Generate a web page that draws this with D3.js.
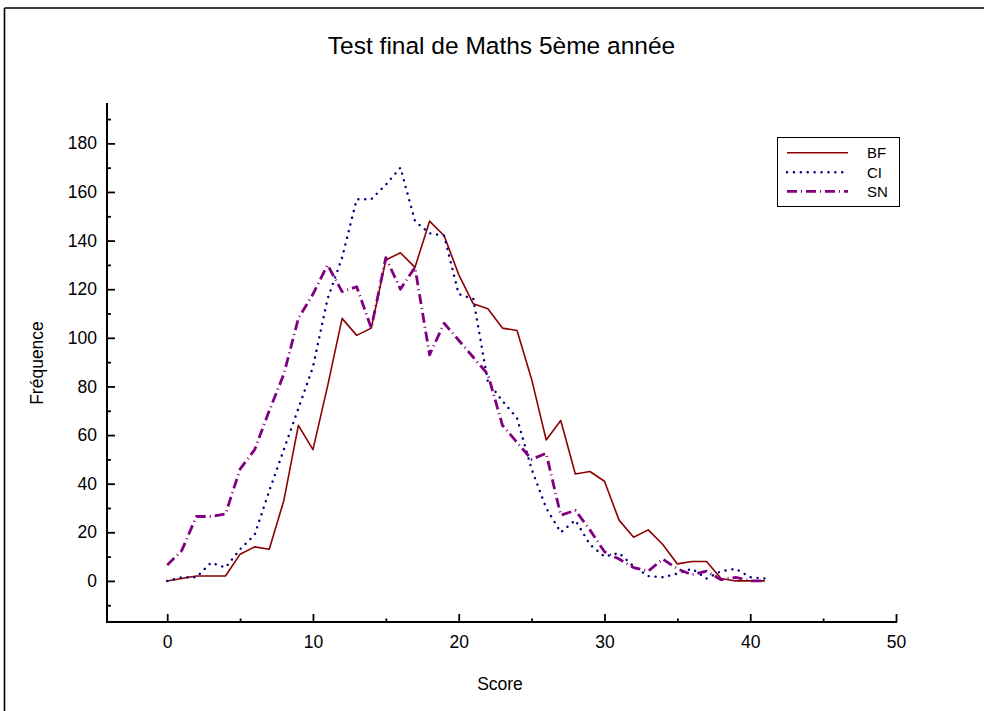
<!DOCTYPE html>
<html>
<head>
<meta charset="utf-8">
<script src="https://cdn.jsdelivr.net/npm/d3@7"></script>
<style>
  html, body { margin: 0; padding: 0; background: #fff; }
  svg { display: block; font-family: "Liberation Sans", Arial, sans-serif; }
</style>
</head>
<body>
<svg id="chart" width="984" height="711"></svg>
<script>
// ---- data ----
const scores = [0,1,2,3,4,5,6,7,8,9,10,11,12,13,14,15,16,17,18,19,20,
                21,22,23,24,25,26,27,28,29,30,31,32,33,34,35,36,37,38,39,40,41];
const bf = [0,1,2,2,2,11,14,13,33,64,54,80,108,101,104,132,135,129,148,142,126,
            114,112,104,103,83,58,66,44,45,41,25,18,21,15,7,8,8,1,0,0,0];
const ci = [0,1.5,1.5,7.5,5.5,13,19,37,54,71,88,116,133,157,157,163,170,148,143,142,118,
            116,82,74,67,46,30,20,25,15,10,11.5,6,2,1.5,3,5,1,4,5,1.5,1];
const sn = [6.5,12.5,26.5,26.5,27.5,46,54,70,85,108,118,130,119,121,104,133,120,129,93,106,99,
            92,85,64,57,50,52.5,27,29,21,12,9,5.5,4,9,5,2.5,4,0.5,1.5,0,0];
const seriesNames = ["BF", "CI", "SN"];
const xTicks = [0,10,20,30,40,50];
const xMinorTicks = [5,15,25,35,45];
const yTicks = [0,20,40,60,80,100,120,140,160,180];
const yMinorTicks = [-10,10,30,50,70,90,110,130,150,170,190];
const title = "Test final de Maths 5ème année";
const xTitle = "Score";
const yTitle = "Fréquence";

// ---- drawing ----
const svg = d3.select("#chart");
const x = d3.scaleLinear().domain([-4.13, 50]).range([107, 896]);
const y = d3.scaleLinear().domain([-16.9, 196.6]).range([622, 103]);

// outer frame (top & left)
svg.append("line").attr("x1", 4.5).attr("x2", 984).attr("y1", 8).attr("y2", 8)
  .attr("stroke", "#000").attr("stroke-width", 1.6);
svg.append("line").attr("x1", 4.5).attr("x2", 4.5).attr("y1", 8).attr("y2", 711)
  .attr("stroke", "#000").attr("stroke-width", 1.6);

// title
svg.append("text").attr("x", 501.5).attr("y", 54).attr("text-anchor", "middle")
  .attr("font-size", 24.5).attr("fill", "#000").text(title);

// axes
const xMinor = svg.append("g").attr("transform", "translate(0,622)")
  .call(d3.axisBottom(x).tickValues(xMinorTicks).tickSize(-3.5).tickFormat(""));
const xAxis = svg.append("g").attr("transform", "translate(0,622)")
  .call(d3.axisBottom(x).tickValues(xTicks).tickSize(-8).tickPadding(14).tickFormat(d3.format("d")));
const yMinor = svg.append("g").attr("transform", "translate(107,0)")
  .call(d3.axisLeft(y).tickValues(yMinorTicks).tickSize(-4).tickFormat(""));
const yAxis = svg.append("g").attr("transform", "translate(107,0)")
  .call(d3.axisLeft(y).tickValues(yTicks).tickSize(-8).tickPadding(10).tickFormat(d3.format("d")));

[xMinor, xAxis, yMinor, yAxis].forEach(g => {
  g.select(".domain").remove();
  g.selectAll(".tick line").attr("stroke", "#000").attr("stroke-width", 1.8);
  g.selectAll(".tick text").attr("font-size", 17.5).attr("fill", "#000")
    .attr("font-family", "'Liberation Sans', Arial, sans-serif");
});
// axis lines
svg.append("line").attr("x1", 107).attr("x2", 107).attr("y1", 103).attr("y2", 622)
  .attr("stroke", "#000").attr("stroke-width", 2);
svg.append("line").attr("x1", 106).attr("x2", 897).attr("y1", 622).attr("y2", 622)
  .attr("stroke", "#000").attr("stroke-width", 2);

// axis titles
svg.append("text").attr("x", 500).attr("y", 690).attr("text-anchor", "middle")
  .attr("font-size", 17.5).attr("fill", "#000").text(xTitle);
svg.append("text").attr("transform", "translate(43,363) rotate(-90)")
  .attr("text-anchor", "middle").attr("font-size", 17.5).attr("fill", "#000").text(yTitle);

// series
const styles = [
  { color: "#8b0000", width: 1.6, dash: null },
  { color: "#000080", width: 2.4, dash: "0.1,6.8", cap: "round" },
  { color: "#800080", width: 2.8, dash: "10,4,1,4" }
];
const data = [bf, ci, sn];
const line = d3.line().x((d, i) => x(scores[i])).y(d => y(d));
data.forEach((vals, k) => {
  const s = styles[k];
  const p = svg.append("path").datum(vals).attr("d", line)
    .attr("fill", "none").attr("stroke", s.color).attr("stroke-width", s.width)
    .attr("stroke-linejoin", "round");
  if (s.dash) p.attr("stroke-dasharray", s.dash);
  if (s.cap) p.attr("stroke-linecap", s.cap);
});

// legend
const lg = svg.append("g");
lg.append("rect").attr("x", 777.5).attr("y", 137.5).attr("width", 122).attr("height", 69)
  .attr("fill", "#fff").attr("stroke", "#000").attr("stroke-width", 1);
const rowY = [152.7, 172.3, 191.3];
seriesNames.forEach((name, k) => {
  const s = styles[k];
  const l = lg.append("line").attr("x1", 787).attr("x2", 848).attr("y1", rowY[k]).attr("y2", rowY[k])
    .attr("stroke", s.color).attr("stroke-width", s.width);
  if (s.dash) l.attr("stroke-dasharray", s.dash);
  if (s.cap) l.attr("stroke-linecap", s.cap);
  lg.append("text").attr("x", 867).attr("y", rowY[k] + 5.5).attr("font-size", 15)
    .attr("fill", "#000").text(name);
});
</script>
</body>
</html>
